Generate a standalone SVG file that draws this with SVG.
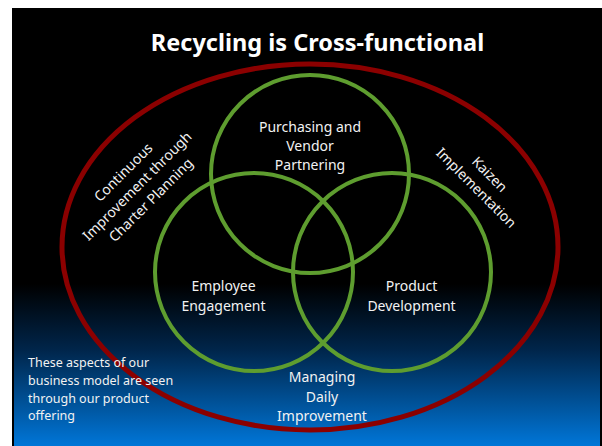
<svg xmlns="http://www.w3.org/2000/svg" width="602" height="446" viewBox="0 0 602 446">
<defs>
<linearGradient id="bg" x1="0" y1="8" x2="0" y2="446" gradientUnits="userSpaceOnUse">
<stop offset="0" stop-color="#000000"/>
<stop offset="0.63" stop-color="#000000"/>
<stop offset="0.78" stop-color="#00254a"/>
<stop offset="1" stop-color="#0076d8"/>
</linearGradient>
<style>
.t{font-family:"Noto Sans","Open Sans","DejaVu Sans",sans-serif;fill:#f2f2f2;font-size:14px;text-anchor:middle}
.s{font-family:"Noto Sans","Open Sans","DejaVu Sans",sans-serif;fill:#f2f2f2;font-size:12.5px}
.title{font-family:"Noto Sans","Open Sans","DejaVu Sans",sans-serif;fill:#ffffff;font-size:23.5px;font-weight:bold;text-anchor:middle}
.g{fill:none;stroke:#5e9d2f;stroke-width:4}
.r{fill:none;stroke:#8b0000;stroke-width:5}
</style>
</defs>
<rect x="0" y="0" width="602" height="446" fill="#ffffff"/>
<rect x="12" y="8" width="590" height="438" fill="#000000"/>
<rect x="14" y="8" width="586" height="438" fill="url(#bg)"/>
<text class="title" x="317.5" y="51">Recycling is Cross-functional</text>
<g id="connectors"/>
<g id="outer">
<ellipse class="r" cx="310" cy="247" rx="248" ry="183"/>
</g>
<g id="purchasing">
<circle class="g" cx="310" cy="174" r="99"/>
<text class="t" x="310" y="132">Purchasing and</text>
<text class="t" x="310" y="151">Vendor</text>
<text class="t" x="310" y="170">Partnering</text>
</g>
<g id="employee">
<circle class="g" cx="254" cy="272" r="99"/>
<text class="t" x="223.5" y="291">Employee</text>
<text class="t" x="223.5" y="311">Engagement</text>
</g>
<g id="product">
<circle class="g" cx="392" cy="272" r="99"/>
<text class="t" x="411.5" y="291">Product</text>
<text class="t" x="411.5" y="311">Development</text>
</g>
<g id="continuous" transform="translate(137,186) rotate(-45)">
<text class="t" x="0" y="-14.5">Continuous</text>
<text class="t" x="0" y="5">Improvement through</text>
<text class="t" x="0" y="24.5">Charter Planning</text>
</g>
<g id="kaizen" transform="translate(483,181) rotate(45)">
<text class="t" x="0" y="-4.5">Kaizen</text>
<text class="t" x="0" y="14.5">Implementation</text>
</g>
<g id="managing">
<text class="t" x="322" y="382">Managing</text>
<text class="t" x="322" y="402">Daily</text>
<text class="t" x="322" y="421">Improvement</text>
</g>
<g id="note">
<text class="s" x="28" y="367">These aspects of our</text>
<text class="s" x="28" y="385">business model are seen</text>
<text class="s" x="28" y="403">through our product</text>
<text class="s" x="28" y="420">offering</text>
</g>
</svg>
